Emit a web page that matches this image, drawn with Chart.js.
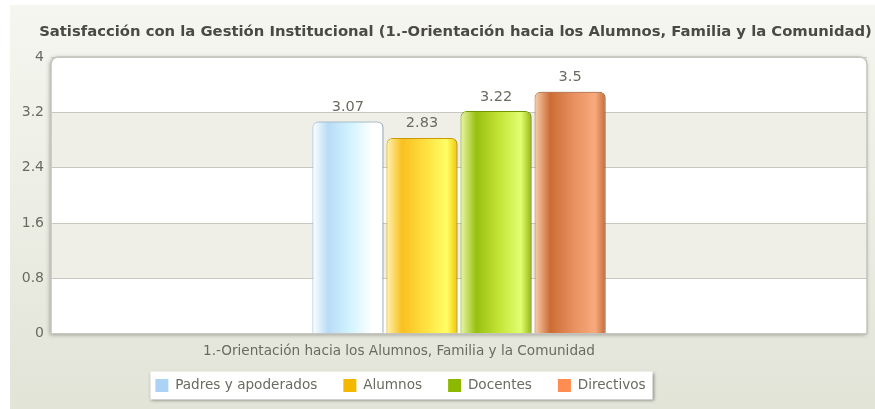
<!DOCTYPE html>
<html>
<head>
<meta charset="utf-8">
<script src="https://cdn.jsdelivr.net/npm/chart.js@4"></script>
<style>
  html, body { margin: 0; padding: 0; background: #fff; }
  #wrap { width: 875px; height: 409px; }
</style>
</head>
<body>
<div id="wrap"><canvas id="c" width="875" height="409"></canvas></div>
<script>
// ── Data ─────────────────────────────────────────────────────────────────────
const chartTitle = 'Satisfacción con la Gestión Institucional (1.-Orientación hacia los Alumnos, Familia y la Comunidad)';
const categories = ['1.-Orientación hacia los Alumnos, Familia y la Comunidad'];
const seriesNames = ['Padres y apoderados', 'Alumnos', 'Docentes', 'Directivos'];
const padres     = [3.07];
const alumnos    = [2.83];
const docentes   = [3.22];
const directivos = [3.5];
const yTicks     = [0, 0.8, 1.6, 2.4, 3.2, 4];

// ── Styles ───────────────────────────────────────────────────────────────────
const swatch  = ['#acd3f5', '#f5b800', '#8cb800', '#ff8c50'];
const borders = ['#9cc4e4', '#e0a800', '#7fa400', '#b8683a'];
const stops = [
  ['#ffffff', '#b8dcf6', '#d4f4ff', '#ffffff', '#ffffff'],
  ['#fff2b0', '#f8c020', '#ffe040', '#ffff66', '#f2c400'],
  ['#eaf8a8', '#98c010', '#c4e438', '#e0ff70', '#94b810'],
  ['#f8d0b0', '#cc6c34', '#e89060', '#f8aa7c', '#c46c3c'],
];
const pos = [0, 0.22, 0.55, 0.85, 1];
const textColor = '#6a6a60';
const font = 'DejaVu Sans';

function barGradient(ctx) {
  const chart = ctx.chart;
  const i = ctx.datasetIndex;
  const el = chart.getDatasetMeta(i).data[ctx.dataIndex];
  if (!el || !el.width) return swatch[i];
  const x0 = el.x - el.width / 2;
  const g = chart.ctx.createLinearGradient(x0, 0, x0 + el.width, 0);
  stops[i].forEach((c, k) => g.addColorStop(pos[k], c));
  return g;
}

const values = [padres, alumnos, docentes, directivos];

// ── Plugins ──────────────────────────────────────────────────────────────────
const backdrop = {
  id: 'backdrop',
  afterLayout(chart) {
    // the original legend sits left of centre and tight under the axis label
    const lg = chart.legend;
    lg.left -= 33;
    lg.right -= 33;
    lg.top -= 9;
    lg.bottom -= 9;
    const tb = chart.titleBlock;
    tb.left += 22;
    tb.right += 22;
  },
  beforeDraw(chart) {
    const { ctx, chartArea: a, scales: { y } } = chart;
    ctx.save();
    const bg = ctx.createLinearGradient(0, 5, 0, chart.height);
    bg.addColorStop(0, '#f5f6ef');
    bg.addColorStop(1, '#e3e4d8');
    ctx.fillStyle = bg;
    ctx.fillRect(10, 5, chart.width - 10, chart.height - 5);

    // plot panel with shadow and rounded top corners
    const r = 8;
    ctx.beginPath();
    ctx.moveTo(a.left, a.bottom);
    ctx.lineTo(a.left, a.top + r);
    ctx.quadraticCurveTo(a.left, a.top, a.left + r, a.top);
    ctx.lineTo(a.right - r, a.top);
    ctx.quadraticCurveTo(a.right, a.top, a.right, a.top + r);
    ctx.lineTo(a.right, a.bottom);
    ctx.closePath();
    ctx.shadowColor = 'rgba(0,0,0,0.35)';
    ctx.shadowBlur = 4;
    ctx.shadowOffsetX = -1;
    ctx.shadowOffsetY = 1;
    ctx.fillStyle = '#ffffff';
    ctx.fill();
    ctx.shadowColor = 'transparent';
    ctx.save();
    ctx.clip();
    // alternating bands
    for (let k = 0; k < yTicks.length - 1; k++) {
      if (k % 2 === 1) {
        const t = y.getPixelForValue(yTicks[k + 1]);
        const b = y.getPixelForValue(yTicks[k]);
        ctx.fillStyle = '#efefe8';
        ctx.fillRect(a.left, t, a.right - a.left, b - t);
      }
    }
    ctx.restore();
    ctx.strokeStyle = '#c4c4bc';
    ctx.lineWidth = 1.5;
    ctx.stroke();

    // legend box
    const lg = chart.legend;
    if (lg && lg.legendHitBoxes && lg.legendHitBoxes.length) {
      const hb = lg.legendHitBoxes;
      const l = Math.min(...hb.map(h => h.left)) - 5;
      const rr = Math.max(...hb.map(h => h.left + h.width)) + 7;
      const cy = hb[0].top + hb[0].height / 2;
      ctx.shadowColor = 'rgba(0,0,0,0.4)';
      ctx.shadowBlur = 3;
      ctx.shadowOffsetX = 1;
      ctx.shadowOffsetY = 1;
      ctx.fillStyle = '#ffffff';
      ctx.fillRect(l, cy - 14, rr - l, 28);
    }
    ctx.restore();
  },
};

const barShadow = {
  id: 'barShadow',
  beforeDatasetDraw(chart) {
    const ctx = chart.ctx;
    ctx.save();
    ctx.shadowColor = 'rgba(0,0,0,0.25)';
    ctx.shadowBlur = 3;
    ctx.shadowOffsetX = 2;
  },
  afterDatasetDraw(chart) {
    chart.ctx.restore();
  },
};

const valueLabels = {
  id: 'valueLabels',
  afterDatasetsDraw(chart) {
    const ctx = chart.ctx;
    ctx.save();
    ctx.font = '14.5px ' + font;
    ctx.fillStyle = textColor;
    ctx.textAlign = 'center';
    ctx.textBaseline = 'bottom';
    chart.data.datasets.forEach((ds, i) => {
      chart.getDatasetMeta(i).data.forEach((el, j) => {
        ctx.fillText(String(ds.data[j]), el.x, el.y - 7);
      });
    });
    ctx.restore();
  },
};

// ── Chart ────────────────────────────────────────────────────────────────────
const chart = new Chart(document.getElementById('c'), {
  type: 'bar',
  data: {
    labels: categories,
    datasets: seriesNames.map((name, i) => ({
      label: name,
      data: values[i],
      backgroundColor: barGradient,
      borderColor: borders[i],
      borderWidth: 1,
      borderRadius: { topLeft: 6, topRight: 6 },
      borderSkipped: 'bottom',
      barPercentage: 0.96,
      categoryPercentage: 0.363,
    })),
  },
  plugins: [backdrop, barShadow, valueLabels],
  options: {
    responsive: false,
    animation: false,
    layout: { padding: { left: 0, right: 8, top: 0, bottom: -2.3 } },
    plugins: {
      title: {
        display: true,
        text: chartTitle,
        color: '#4a4a42',
        font: { family: font, size: 14.8, weight: 'bold' },
        padding: { top: 23, bottom: 16.3 },
      },
      legend: {
        position: 'bottom',
        labels: {
          color: textColor,
          font: { family: font, size: 13.6 },
          boxWidth: 13,
          boxHeight: 13,
          padding: 26,
          generateLabels: () => seriesNames.map((n, i) => ({
            text: n,
            fillStyle: swatch[i],
            strokeStyle: swatch[i],
            lineWidth: 0,
            datasetIndex: i,
            fontColor: textColor,
          })),
        },
      },
      tooltip: { enabled: false },
    },
    scales: {
      x: {
        grid: { display: false, drawTicks: false },
        border: { display: false },
        ticks: {
          color: textColor,
          font: { family: font, size: 13.6 },
          padding: 10,
          labelOffset: -60,
        },
        afterFit: (s) => { s.height = 28; },
      },
      y: {
        min: 0,
        max: 4,
        afterBuildTicks: (s) => { s.ticks = yTicks.map(v => ({ value: v })); },
        grid: { color: '#c8c8c0', lineWidth: 1, drawTicks: false },
        border: { display: false },
        ticks: {
          color: textColor,
          font: { family: font, size: 14 },
          padding: 7,
          callback: (v) => String(v),
        },
        afterFit: (s) => { s.width = 51; },
      },
    },
  },
});
chart.update();
</script>
</body>
</html>
